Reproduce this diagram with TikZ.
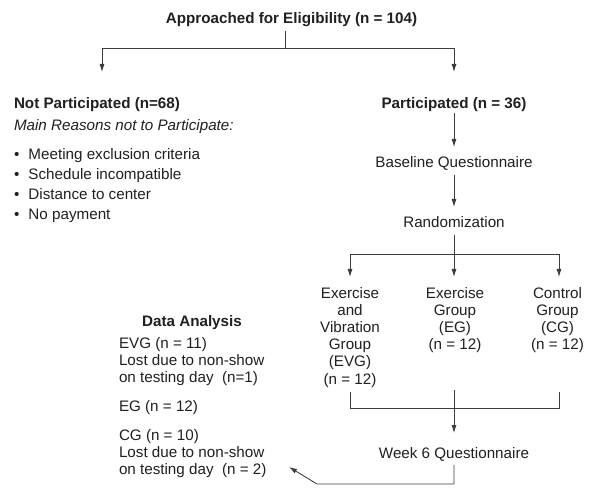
\documentclass[tikz,border=0pt]{standalone}
\usepackage{fontspec}
\setmainfont{Liberation Sans}
\usetikzlibrary{arrows.meta}
\definecolor{linecol}{RGB}{60,60,60}
\definecolor{textcol}{RGB}{35,31,32}
\begin{document}
\begin{tikzpicture}[x=1pt,y=-1pt,
  txt/.style={inner sep=0pt, outer sep=0pt, text=textcol, font=\fontsize{15.2}{17.2}\selectfont},
  bold/.style={txt, font=\fontsize{15.2}{17.2}\selectfont\bfseries},
  ital/.style={txt, font=\fontsize{15.2}{17.2}\selectfont\itshape},
  listtxt/.style={txt, align=left, font=\fontsize{15.2}{17}\selectfont},
  ln/.style={draw=linecol, line width=0.85pt},
  arr/.style={ln, -{Latex[length=8pt,width=5pt]}}]
\useasboundingbox[fill=white] (0,0) rectangle (600,503);

% texts (multi-line nodes are placed by the baseline of their last line)
\node[bold, anchor=base] (t) at (291.5,24) {Approached for Eligibility (n = 104)};
\node[bold, anchor=base west] (np) at (14,108) {Not Participated (n=68)};
\node[ital, anchor=base west] (mr) at (14,130) {Main Reasons not to Participate:};
\node[txt, anchor=base west, align=left, font=\fontsize{15.2}{20}\selectfont] (rs) at (14,219)
  {\makebox[14.5pt][l]{•}Meeting exclusion criteria\\
   \makebox[14.5pt][l]{•}Schedule incompatible\\
   \makebox[14.5pt][l]{•}Distance to center\\
   \makebox[14.5pt][l]{•}No payment};
\node[bold, anchor=base] (p) at (454,108) {Participated (n = 36)};
\node[txt, anchor=base] (bq) at (454,167) {Baseline Questionnaire};
\node[txt, anchor=base] (rnd) at (454,227) {Randomization};
\node[txt, anchor=base, align=center] (evg) at (350,384) {Exercise\\and\\Vibration\\Group\\(EVG)\\(n = 12)};
\node[txt, anchor=base, align=center] (eg) at (455,349.6) {Exercise\\Group\\(EG)\\(n = 12)};
\node[txt, anchor=base, align=center] (cg) at (557.5,349.6) {Control\\Group\\(CG)\\(n = 12)};
\node[txt, anchor=base] (w6) at (454,458.5) {Week 6 Questionnaire};
\node[bold, anchor=base] (da) at (192,326.5) {Data Analysis};
\node[listtxt, anchor=base west] (d1) at (119,382) {EVG (n = 11)\\Lost due to non-show\\on testing day\ \ (n=1)};
\node[txt, anchor=base west] (d2) at (119,411.5) {EG (n = 12)};
\node[listtxt, anchor=base west] (d3) at (119,474) {CG (n = 10)\\Lost due to non-show\\on testing day\ \ (n = 2)};

% junction coordinates
\coordinate (j1) at (285,48);
\coordinate (aL) at (102,72);
\coordinate (aR) at (454,72);
\coordinate (j2) at (454,254);
\coordinate (bt) at (0,392);
\coordinate (bt2) at (0,390);
\coordinate (j3) at (454,408);
\coordinate (cgx) at ([xshift=1.5pt]cg.north);
\coordinate (c1) at (317,484);
\coordinate (tipc) at (289,467);

% connectors
\draw[ln] (t.south -| j1) ++(0,3.5) -- (j1);
\draw[arr] (j1) -| (aL);
\draw[arr] (j1) -| (aR);
\draw[arr, shorten <=2pt, shorten >=9pt] (p.south) -- (p.south |- bq.north);
\draw[arr, shorten <=5pt, shorten >=9pt] (bq.south) -- (bq.south |- rnd.north);
\draw[arr, shorten <=8pt, shorten >=10pt] (rnd.south) -- (rnd.south |- eg.north);
\draw[arr, shorten >=10pt] (j2) -| (evg.north);
\draw[arr, shorten >=10pt] (j2) -| (cgx);
\draw[ln] (evg.south |- bt) -- (evg.south |- j3) -- (cgx |- j3) -- (cgx |- bt);
\draw[arr, shorten >=14.4pt] (j3 |- bt2) -- (w6.north);
\draw[arr, shorten <=3.5pt] (w6.south) -- (w6.south |- c1) -- (c1) -- (tipc);
\end{tikzpicture}
\end{document}
